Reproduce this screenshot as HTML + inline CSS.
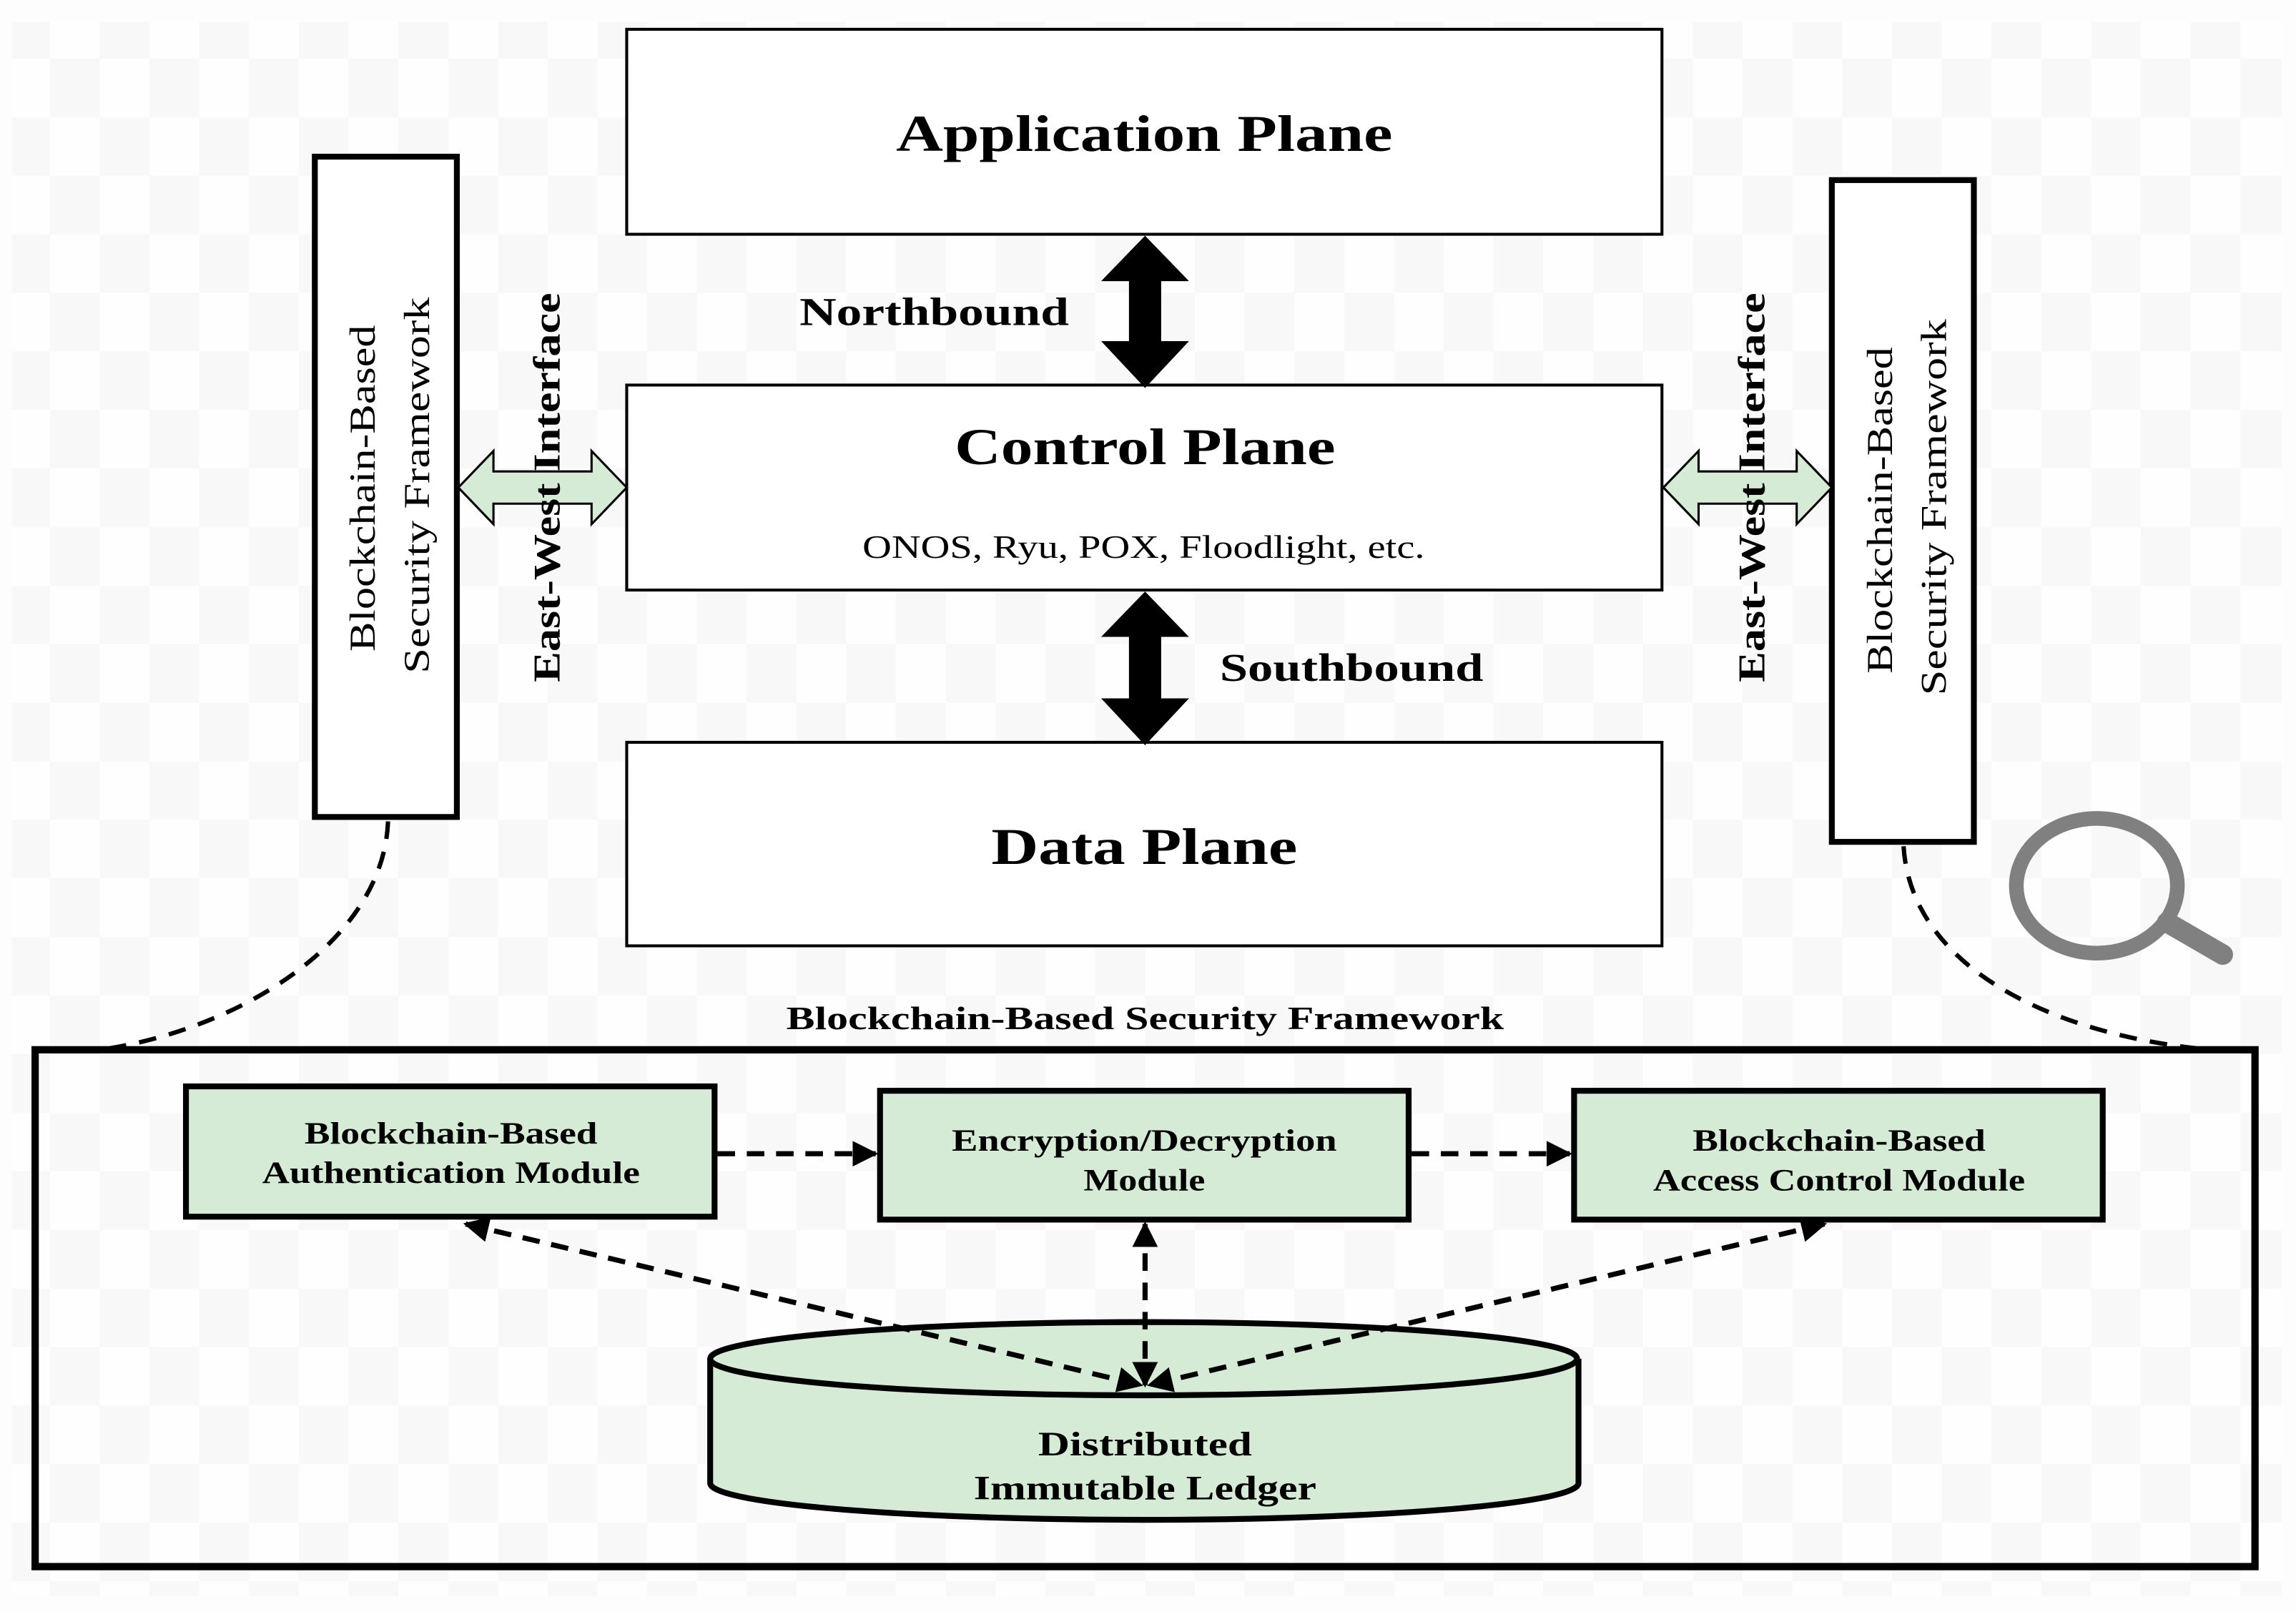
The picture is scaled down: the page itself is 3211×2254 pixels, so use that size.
<!DOCTYPE html>
<html><head><meta charset="utf-8"><style>
html,body{margin:0;padding:0;background:#fdfdfd}
svg{display:block}
text{font-family:"Liberation Serif",serif;font-weight:bold;fill:#000}
</style></head><body>
<svg width="3211" height="2254" viewBox="0 0 1568 1101" preserveAspectRatio="none" xmlns="http://www.w3.org/2000/svg">
<defs>
<marker id="ah" viewBox="0 0 10 10" refX="9" refY="5" markerWidth="5" markerHeight="5" orient="auto-start-reverse"><path d="M0,0 L10,5 L0,10 z" fill="#000"/></marker>
<pattern id="chk" width="68" height="80" patternUnits="userSpaceOnUse"><rect width="68" height="80" fill="#fefefe"/><rect width="34" height="40" fill="#f8f8f8"/><rect x="34" y="40" width="34" height="40" fill="#f8f8f8"/></pattern>
</defs>
<rect x="8" y="15" width="1550" height="1075" fill="url(#chk)"/>
<g fill="#fff" stroke="#000">
<rect x="428" y="20" width="707" height="140" stroke-width="2"/>
<rect x="428" y="263" width="707" height="140" stroke-width="2"/>
<rect x="428" y="507" width="707" height="139" stroke-width="2"/>
<rect x="215" y="107" width="97" height="451" stroke-width="4"/>
<rect x="1251" y="123" width="97" height="452" stroke-width="4"/>
</g>
<text x="612" y="103" font-size="35" textLength="339" lengthAdjust="spacingAndGlyphs">Application Plane</text>
<text x="652" y="317" font-size="35" textLength="260" lengthAdjust="spacingAndGlyphs">Control Plane</text>
<text x="589" y="381" font-size="22" style="font-weight:normal" textLength="384" lengthAdjust="spacingAndGlyphs">ONOS, Ryu, POX, Floodlight, etc.</text>
<text x="677" y="590" font-size="35" textLength="209" lengthAdjust="spacingAndGlyphs">Data Plane</text>
<path d="M782,161 L812,192 L793,192 L793,233 L812,233 L782,265 L752,233 L771,233 L771,192 L752,192 Z" fill="#000"/>
<path d="M782,404 L812,435 L793,435 L793,477 L812,477 L782,509 L752,477 L771,477 L771,435 L752,435 Z" fill="#000"/>
<text x="546" y="222" font-size="27" textLength="184" lengthAdjust="spacingAndGlyphs">Northbound</text>
<text x="833" y="465" font-size="27" textLength="180" lengthAdjust="spacingAndGlyphs">Southbound</text>
<path d="M313,333 L337,308 L337,322 L404,322 L404,308 L428,333 L404,358 L404,344 L337,344 L337,358 Z" fill="#d5ebd5" stroke="#000" stroke-width="1.5"/>
<path d="M1136,333 L1160,308 L1160,322 L1227,322 L1227,308 L1251,333 L1227,358 L1227,344 L1160,344 L1160,358 Z" fill="#d5ebd5" stroke="#000" stroke-width="1.5"/>
<text transform="translate(382,466) rotate(-90)" font-size="26" textLength="266" lengthAdjust="spacingAndGlyphs">East-West Interface</text>
<text transform="translate(1205,466) rotate(-90)" font-size="26" textLength="266" lengthAdjust="spacingAndGlyphs">East-West Interface</text>
<text transform="translate(256,445) rotate(-90)" font-size="25" style="font-weight:normal" textLength="223" lengthAdjust="spacingAndGlyphs">Blockchain-Based</text>
<text transform="translate(293,460) rotate(-90)" font-size="25" style="font-weight:normal" textLength="257" lengthAdjust="spacingAndGlyphs">Security Framework</text>
<text transform="translate(1292,460) rotate(-90)" font-size="25" style="font-weight:normal" textLength="223" lengthAdjust="spacingAndGlyphs">Blockchain-Based</text>
<text transform="translate(1329,475) rotate(-90)" font-size="25" style="font-weight:normal" textLength="257" lengthAdjust="spacingAndGlyphs">Security Framework</text>
<path d="M265,561 C262,640 170,700 75,716" fill="none" stroke="#000" stroke-width="3" stroke-dasharray="12,9"/>
<path d="M1300,578 C1305,660 1400,705 1500,716" fill="none" stroke="#000" stroke-width="3" stroke-dasharray="12,9"/>
<ellipse cx="1432" cy="605" rx="55" ry="46" fill="none" stroke="#808080" stroke-width="10"/>
<line x1="1480" y1="630" x2="1518" y2="652" stroke="#808080" stroke-width="14" stroke-linecap="round"/>
<text x="537" y="703" font-size="22" textLength="490" lengthAdjust="spacingAndGlyphs">Blockchain-Based Security Framework</text>
<rect x="24" y="717" width="1516" height="353" fill="none" stroke="#000" stroke-width="5"/>
<g fill="#d5ebd5" stroke="#000" stroke-width="4">
<rect x="127" y="742" width="361" height="89"/>
<rect x="601" y="745" width="361" height="88"/>
<rect x="1075" y="745" width="361" height="88"/>
</g>
<g font-size="21">
<text x="208" y="781" textLength="200" lengthAdjust="spacingAndGlyphs">Blockchain-Based</text>
<text x="179" y="808" textLength="258" lengthAdjust="spacingAndGlyphs">Authentication Module</text>
<text x="650" y="786" textLength="263" lengthAdjust="spacingAndGlyphs">Encryption/Decryption</text>
<text x="740" y="813" textLength="83" lengthAdjust="spacingAndGlyphs">Module</text>
<text x="1156" y="786" textLength="200" lengthAdjust="spacingAndGlyphs">Blockchain-Based</text>
<text x="1129" y="813" textLength="254" lengthAdjust="spacingAndGlyphs">Access Control Module</text>
</g>
<g stroke="#000" stroke-width="3.5" stroke-dasharray="12,8" fill="none">
<line x1="490" y1="788" x2="598" y2="788" marker-end="url(#ah)"/>
<line x1="964" y1="788" x2="1072" y2="788" marker-end="url(#ah)"/>
</g>
<path d="M485,928 L485,1013 A296,25 0 0 0 1078,1013 L1078,928" fill="#d5ebd5" stroke="#000" stroke-width="4"/>
<ellipse cx="781" cy="928" rx="296" ry="25" fill="#d5ebd5" stroke="#000" stroke-width="4"/>
<text x="709" y="994" font-size="23" textLength="146" lengthAdjust="spacingAndGlyphs">Distributed</text>
<text x="665" y="1024" font-size="23" textLength="234" lengthAdjust="spacingAndGlyphs">Immutable Ledger</text>
<g stroke="#000" stroke-width="3.5" stroke-dasharray="12,8" fill="none">
<line x1="318" y1="836" x2="779" y2="946" marker-start="url(#ah)" marker-end="url(#ah)"/>
<line x1="782" y1="836" x2="782" y2="946" marker-start="url(#ah)" marker-end="url(#ah)"/>
<line x1="1246" y1="836" x2="785" y2="946" marker-start="url(#ah)" marker-end="url(#ah)"/>
</g>
</svg>
</body></html>
